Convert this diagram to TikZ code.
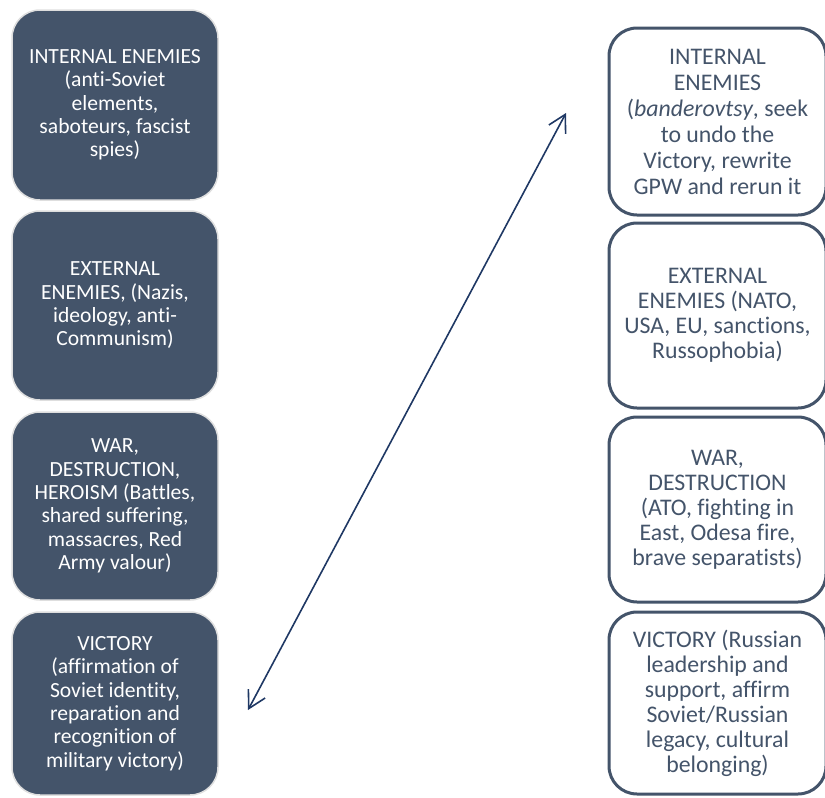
\documentclass[tikz,border=0pt]{standalone}
\usepackage{fontspec}
\setmainfont{Carlito}[Ligatures=NoCommon]
\usetikzlibrary{arrows.meta}
\definecolor{slate}{HTML}{44546A}
\definecolor{rimgray}{HTML}{DEDEDE}
\definecolor{navy}{HTML}{1F3864}

\begin{document}
\begin{tikzpicture}[x=1pt, y=-1pt,
    oldbox/.style={fill=slate, draw=rimgray, line width=1.5pt, rounded corners=28pt,
        text=white, align=center, minimum width=206pt, inner sep=0pt,
        font=\fontsize{21.6}{23.3}\selectfont},
    newbox/.style={fill=white, draw=slate, line width=3pt, rounded corners=28pt,
        text=slate, align=center, minimum width=217pt, inner sep=0pt,
        font=\fontsize{23.8}{25}\selectfont},
    twoway/.style={navy, line width=1.6pt,
        {Straight Barb[length=17pt,width=19pt]}-{Straight Barb[length=17pt,width=19pt]}}]
    % Page
    \useasboundingbox (0,0) rectangle (825,798);

    % Left column
    \node[oldbox, minimum height=190pt] (oldint) at (115,105)
        {INTERNAL ENEMIES\\(anti-Soviet\\elements,\\saboteurs, fascist\\spies)};
    \node[oldbox, minimum height=189pt] (oldext) at (115,305.5)
        {EXTERNAL\\ENEMIES, (Nazis,\\ideology, anti-\\Communism)};
    \node[oldbox, minimum height=188pt] (oldwar) at (115,506)
        {WAR,\\DESTRUCTION,\\HEROISM (Battles,\\shared suffering,\\massacres, Red\\Army valour)};
    \node[oldbox, minimum height=183pt] (oldvic) at (115,703.5)
        {VICTORY\\(affirmation of\\Soviet identity,\\reparation and\\recognition of\\military victory)};

    % Right column
    \node[newbox, minimum height=187pt, font=\fontsize{23.8}{26}\selectfont] (newint) at (717.5,121.5)
        {INTERNAL\\ENEMIES\\(\textit{banderovtsy}, seek\\to undo the\\Victory, rewrite\\GPW and rerun it};
    \node[newbox, minimum height=185pt] (newext) at (717.5,315.5)
        {EXTERNAL\\ENEMIES (NATO,\\USA, EU, sanctions,\\Russophobia)};
    \node[newbox, minimum height=185pt] (newwar) at (717.5,509.5)
        {WAR,\\DESTRUCTION\\(ATO, fighting in\\East, Odesa fire,\\brave separatists)};
    \node[newbox, minimum height=182pt] (newvic) at (717.5,703)
        {VICTORY (Russian\\leadership and\\support, affirm\\Soviet/Russian\\legacy, cultural\\belonging)};

    % Arrow
    \coordinate (victip) at (248,710);
    \coordinate (inttip) at (566,113);
    \draw[twoway] (victip) -- (inttip);
\end{tikzpicture}
\end{document}
